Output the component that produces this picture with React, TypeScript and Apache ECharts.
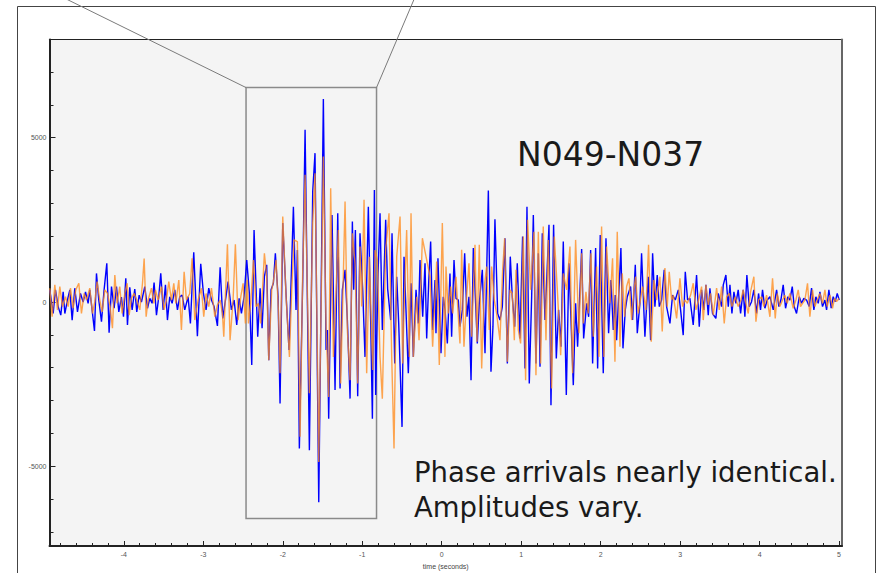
import React, { useEffect, useRef } from "react";
import * as echarts from "echarts";

// ---- Data ----
const xMajorTicks = [-4, -3, -2, -1, 0, 1, 2, 3, 4, 5];
const yMajorTicks = [-5000, 0, 5000];
const yMinorTicks = [-7000, -6000, -5000, -4000, -3000, -2000, -1000, 0, 1000, 2000, 3000, 4000, 5000, 6000, 7000];
const xMinorTicks = [
  -4.8, -4.6, -4.4, -4.2, -4.0, -3.8, -3.6, -3.4, -3.2, -3.0, -2.8, -2.6, -2.4, -2.2, -2.0,
  -1.8, -1.6, -1.4, -1.2, -1.0, -0.8, -0.6, -0.4, -0.2, 0, 0.2, 0.4, 0.6, 0.8, 1.0, 1.2, 1.4,
  1.6, 1.8, 2.0, 2.2, 2.4, 2.6, 2.8, 3.0, 3.2, 3.4, 3.6, 3.8, 4.0, 4.2, 4.4, 4.6, 4.8, 5.0,
];

// station N049 (blue)
const blueTime = [
  -4.931, -4.889, -4.86, -4.826, -4.793, -4.763, -4.742, -4.709, -4.679, -4.65,
  -4.617, -4.583, -4.545, -4.512, -4.482, -4.449, -4.428, -4.399, -4.369, -4.344,
  -4.315, -4.281, -4.248, -4.214, -4.185, -4.155, -4.122, -4.092, -4.063, -4.03,
  -4.004, -3.975, -3.954, -3.925, -3.895, -3.862, -3.837, -3.807, -3.778, -3.736,
  -3.702, -3.673, -3.644, -3.619, -3.589, -3.56, -3.535, -3.505, -3.476, -3.451,
  -3.422, -3.392, -3.359, -3.325, -3.296, -3.266, -3.233, -3.191, -3.162, -3.12,
  -3.074, -3.032, -2.998, -2.965, -2.931, -2.897, -2.864, -2.822, -2.788, -2.755,
  -2.721, -2.688, -2.646, -2.612, -2.579, -2.549, -2.52, -2.487, -2.453,
  -2.42, -2.39, -2.361, -2.315, -2.285, -2.26, -2.231, -2.202, -2.176, -2.147,
  -2.118, -2.093, -2.059, -2.034, -2.0, -1.958, -1.921, -1.866, -1.833, -1.816,
  -1.791, -1.749, -1.719, -1.665, -1.623, -1.594, -1.547, -1.489, -1.455, -1.438,
  -1.422, -1.38, -1.342, -1.308, -1.279, -1.25, -1.216, -1.187, -1.153, -1.124,
  -1.107, -1.086, -1.057, -1.028, -0.994, -0.965, -0.923, -0.893, -0.872, -0.847,
  -0.831, -0.801, -0.776, -0.747, -0.705, -0.68, -0.642, -0.625, -0.591, -0.566,
  -0.541, -0.499, -0.474, -0.42, -0.386, -0.357, -0.323, -0.294, -0.273, -0.239,
  -0.21, -0.189, -0.164, -0.139,
  -0.114, -0.084, -0.072, -0.047, -0.009, 0.02, 0.042, 0.071, 0.104, 0.125,
  0.155, 0.18, 0.209, 0.23, 0.26, 0.289, 0.318, 0.343, 0.369, 0.398,
  0.427, 0.448, 0.473, 0.511, 0.545, 0.587, 0.62, 0.645, 0.67, 0.704,
  0.733, 0.763, 0.796, 0.826, 0.863, 0.888, 0.918, 0.951, 0.985, 1.018,
  1.048, 1.073, 1.102, 1.132, 1.153, 1.186, 1.216, 1.237, 1.266, 1.3,
  1.35, 1.375, 1.408, 1.442, 1.471, 1.501, 1.53, 1.568, 1.601, 1.627,
  1.656, 1.685, 1.71, 1.761, 1.786, 1.824, 1.849, 1.874, 1.899, 1.937,
  1.962, 1.995, 2.033, 2.067, 2.1, 2.13, 2.159, 2.184, 2.201, 2.255,
  2.281, 2.31, 2.335, 2.377, 2.402, 2.436, 2.461, 2.494,
  2.515, 2.557, 2.599, 2.629, 2.654, 2.683, 2.712, 2.738, 2.767, 2.8,
  2.83, 2.872, 2.905, 2.939, 2.977, 3.006, 3.039, 3.065, 3.094, 3.123,
  3.165, 3.207, 3.241, 3.27, 3.299, 3.325, 3.354, 3.375, 3.408, 3.45,
  3.48, 3.522, 3.543, 3.576, 3.606, 3.627, 3.652, 3.677, 3.702, 3.731,
  3.761, 3.794, 3.815, 3.84, 3.87, 3.899, 3.928, 3.962, 3.987, 4.012,
  4.037, 4.067, 4.096, 4.13, 4.172, 4.214, 4.243, 4.268, 4.297, 4.327,
  4.356, 4.381, 4.411, 4.436, 4.465, 4.499, 4.528, 4.557, 4.591, 4.624,
  4.654, 4.683, 4.708, 4.738, 4.759, 4.792, 4.822, 4.843, 4.872, 4.901,
  4.926, 4.952, 4.977, 5.002,
];
const blueAmp = [
  370, -350, 370, -140, -400, 310, -350, 60, 370, -550,
  420, -300, 260, 0, 310, -40, 370, -240, -880, 870,
  60, -600, 370, 1180, -935, 470, -190, 470, -300, 150,
  -450, 720, -700, 450, -240, 390, -300, 210, 0, 470,
  -190, 110, -40, 590, -400, 160, 870, -240, 520, -550,
  160, -40, 370, -240, 160, 210, -240, 160, -650, 1510,
  -1040, 1160, 260, -240, 420, 60, -140, -730, 1060, -500,
  60, 620, -240, 60, -700, 110, -350, 160, 1280,
  260, -1920, 2190, -1060, 420, -800, 770, 1130, -1770, 370,
  570, 1480, 160, -3090, 2400, 210, -1460, 2900, -240, 1580,
  -4460, 620, 5240, -4510, 3360, 4530, -6090, 6180, -1460, -850,
  -3550, 2650, -2680, 2700, -2630, 370, 980, -550, -2940, 2450,
  370, 2190, -2870, 2090, 370, -1670, 2900, -650, -3550, 3410,
  -2830, 870, 2700, -850, 2500, 400, -550, 2090, -1870, 770,
  -650, -3800, 1380, -2170, 570, -1670, 370, -650, 1280, -450,
  1180, -1110, 570, 1840,
  -850, 670, -950, 1330, -1560, 160, -240, -1260, 870, -1060,
  1280, 110, 60, -750, -240, 1480, -450, 160, -2380, 1640,
  -40, -1260, -40, 980, -1560, 3390, -2120, -750, 2520, -350,
  -550, -140, 1940, -1870, 1380, 160, -750, 1180, -1110, 1990,
  -2020, 2900, -2480, 160, 2650, -1870, 1480, -1970, 2090, -550,
  2350, -3140, 2350, -1720, -240, -1360, 1840, -2830, 1180, -550,
  -2530, -40, -1360, 1610, -1110, -40, -450, 1580, -1870, 1640,
  -2020, 2040, -2170, 1940, -950, 670, -850, 210, -1160, 1640,
  -1410, -240, 160, 470, -550, 1130, -950, -40,
  1480, -1060, 770, -1160, 1480, -140, 820, -140, 60, 980,
  -140, -650, 210, 60, 370, -240, -1010, 920, 60, 110,
  -700, 820, -750, 370, -240, 520, -400, 420, -350, -500,
  260, -140, 520, 820, -140, 520, -350, 310, -40, 370,
  -350, 370, -450, 820, -140, 10, 370, -350, 260, -240,
  370, -190, 60, 160, -240, 370, -140, 60, 520, -190,
  160, 60, 470, -140, -350, 160, -40, 110, 60, -140,
  420, -240, 160, -40, 310, -140, 60, -240, 370, -190,
  160, 10, 260, 60,
];

// station N037 (orange)
const orangeTime = [
  -4.931, -4.902, -4.868, -4.835, -4.805, -4.772, -4.734, -4.7, -4.671, -4.638,
  -4.604, -4.566, -4.533, -4.499, -4.47, -4.428, -4.394, -4.365, -4.336, -4.302,
  -4.273, -4.239, -4.206, -4.172, -4.143, -4.113, -4.084, -4.051, -4.021, -3.988,
  -3.958, -3.933, -3.904, -3.87, -3.837, -3.799, -3.765, -3.744, -3.719, -3.694,
  -3.652, -3.623, -3.602, -3.568, -3.526, -3.493, -3.463, -3.434, -3.401, -3.371,
  -3.346, -3.308, -3.275, -3.241, -3.212, -3.17, -3.141, -3.107, -3.065, -3.023,
  -2.994, -2.965, -2.931, -2.897, -2.855, -2.822, -2.788, -2.759, -2.742, -2.696,
  -2.663, -2.625, -2.596, -2.562, -2.528, -2.499, -2.47, -2.445,
  -2.432, -2.403, -2.369, -2.336, -2.306, -2.277, -2.231, -2.202, -2.176, -2.139,
  -2.118, -2.084, -2.055, -2.034, -2.0, -1.958, -1.916, -1.887, -1.858, -1.816,
  -1.782, -1.749, -1.719, -1.665, -1.623, -1.594, -1.547, -1.489, -1.455, -1.422,
  -1.397, -1.363, -1.329, -1.3, -1.271, -1.246, -1.216, -1.187, -1.153, -1.124,
  -1.09, -1.057, -1.028, -1.007, -0.977, -0.944, -0.91, -0.868, -0.839, -0.81,
  -0.776, -0.747, -0.705, -0.663, -0.629, -0.6, -0.566, -0.524, -0.491, -0.474,
  -0.441, -0.407, -0.386, -0.357, -0.315, -0.285, -0.243,
  -0.147, -0.114, -0.084, -0.063, -0.03, 0.008, 0.041, 0.054, 0.083, 0.113,
  0.138, 0.18, 0.209, 0.23, 0.251, 0.28, 0.314, 0.343, 0.377, 0.419,
  0.444, 0.473, 0.503, 0.536, 0.566, 0.599, 0.628, 0.662, 0.691, 0.733,
  0.767, 0.792, 0.826, 0.859, 0.888, 0.914, 0.935, 0.964, 0.993, 1.027,
  1.056, 1.081, 1.119, 1.161, 1.186, 1.216, 1.245, 1.278, 1.312, 1.341,
  1.383, 1.417, 1.455, 1.497, 1.53, 1.572, 1.614, 1.647, 1.685, 1.727,
  1.761, 1.781, 1.815, 1.844, 1.878, 1.907, 1.949, 1.979, 2.012, 2.041,
  2.075, 2.117, 2.15, 2.18, 2.209, 2.243, 2.272, 2.302, 2.327, 2.356,
  2.39, 2.419, 2.44, 2.473,
  2.528, 2.57, 2.603, 2.637, 2.67, 2.704, 2.746, 2.775, 2.809, 2.838,
  2.863, 2.893, 2.914, 2.956, 2.998, 3.031, 3.06, 3.09, 3.132, 3.165,
  3.199, 3.232, 3.27, 3.291, 3.325, 3.354, 3.383, 3.417, 3.459, 3.492,
  3.522, 3.555, 3.585, 3.618, 3.652, 3.694, 3.731, 3.765, 3.794, 3.828,
  3.857, 3.886, 3.928, 3.954, 3.987, 4.025, 4.054, 4.088, 4.13, 4.163,
  4.197, 4.222, 4.255, 4.289, 4.318, 4.348, 4.381, 4.423, 4.457, 4.486,
  4.515, 4.541, 4.57, 4.603, 4.633, 4.666, 4.696, 4.725, 4.759, 4.792,
  4.822, 4.851, 4.885, 4.918, 4.943, 4.968, 4.998,
];
const orangeAmp = [
  420, -450, 520, -240, 470, -140, 160, -140, 420, -190,
  370, 570, -350, 260, 60, 420, -350, 10, 620, 60,
  -300, 370, 260, -140, -800, 820, -40, 470, -350, 260,
  570, -400, 110, 260, 60, -240, 570, 1320, -450, 60,
  420, -40, 370, 60, 470, -240, 60, 620, 60, 570,
  -40, 670, -850, 920, 60, 260, 1330, -550, 60, 420,
  -450, 260, -140, 420, -450, -90, 60, -350, -1060, 1760,
  -1160, 60, 1760, -550, 160, 570, -650, 670,
  -650, -40, 1280, -140, -40, -650, 1480, 770, -1770, 370,
  620, 1280, -240, -2170, 2600, 160, -1670, 370, 1890, 1840,
  -4100, 920, 3870, -2780, 2400, 3920, -4870, 4430, -750, -2890,
  3460, -1670, 370, 2190, -2480, -40, 3060, -850, -2380, 2090,
  1180, -2480, 1690, -140, 3110, -2170, 1380, -2070, 1580, 1280,
  -1670, -2940, 1580, 2700, -1670, -4460, 1380, 2600, -1870, -240,
  2190, -1670, 2700, -1670, 160, -1160, 1940,
  770, -1360, 160, 1230, -1920, 2400, -1670, 1080, -350, 470,
  -350, 770, -450, -1260, 1590, -1360, 160, 1180, -1060, 1740,
  -1210, 1740, -2020, 470, 1080, -850, 1080, 60, -350, -1160,
  980, 1940, -1820, 370, 260, -1160, 980, -850, -1260, 1990,
  -2380, 2500, 370, 2140, -2230, 2140, -1870, 2300, -1160, 1890,
  -2630, 1990, 370, -1620, 870, 370, 1690, -2170, 1890, -950,
  1480, -650, 310, -350, 1480, -1060, 1080, -1670, 2300, -1670,
  1690, -40, 1330, -1820, 2140, -1360, 870, -450, 470, 720,
  -550, 370, 770, -350,
  470, -240, 1740, -1210, 670, 60, 770, -900, 1030, -140,
  920, 60, 210, -500, 720, -140, 60, -40, 210, 570,
  -240, 60, 470, -550, 520, -90, 260, -400, 420, -240,
  470, -650, 160, 260, -140, 160, -140, 60, 370, -40,
  -350, 310, 770, -600, 60, 160, -140, 210, -450, 720,
  -500, 260, -140, 60, 210, -40, 260, -190, 60, 370,
  -140, -40, 60, 570, -450, 370, -140, 60, 260, -40,
  370, -140, 210, -190, 110, 10, 110,
];

// highlighted window (seconds, amplitude)
const boxTime = [-2.462, -0.82];
const boxAmp = [-6586, 6525];

const title = "N049-N037";
const noteLines = ["Phase arrivals nearly identical.", "Amplitudes vary."];

export default function App() {
  const ref = useRef<HTMLDivElement>(null);
  useEffect(() => {
    if (!ref.current) return;
    const chart = echarts.init(ref.current, null, { renderer: "svg" });
    const xMin = -4.935;
    const xMax = 5.037;
    const yMin = -7425;
    const yMax = 7988;
    const labelFont = { fontFamily: "Liberation Sans", fontSize: 7, color: "#555" };
    chart.setOption({
      animation: false,
      backgroundColor: "#ffffff",
      grid: {
        left: 49.5,
        top: 39.5,
        width: 792.5,
        height: 506.5,
        show: true,
        backgroundColor: "#f4f4f4",
        borderColor: "#222",
        borderWidth: 1,
        containLabel: false,
        outerBoundsMode: "none",
      },
      xAxis: [
        {
          type: "value",
          min: xMin,
          max: xMax,
          position: "bottom",
          axisLine: { show: true, onZero: false, lineStyle: { color: "#222", width: 2 } },
          axisTick: { show: true, inside: true, length: 5, customValues: xMajorTicks, lineStyle: { color: "#222", width: 1 } },
          axisLabel: { show: true, customValues: xMajorTicks, margin: 5, ...labelFont, formatter: (v: number) => String(v) },
          splitLine: { show: false },
          name: "time (seconds)",
          nameLocation: "middle",
          nameGap: 13,
          nameTextStyle: { fontFamily: "Liberation Sans", fontSize: 7, color: "#444" },
        },
        {
          type: "value",
          min: xMin,
          max: xMax,
          position: "bottom",
          axisLine: { show: false, onZero: false },
          axisTick: { show: true, inside: true, length: 3, customValues: xMinorTicks, lineStyle: { color: "#222", width: 1 } },
          axisLabel: { show: false },
          splitLine: { show: false },
        },
      ],
      yAxis: [
        {
          type: "value",
          min: yMin,
          max: yMax,
          position: "left",
          axisLine: { show: true, onZero: false, lineStyle: { color: "#222", width: 2 } },
          axisTick: { show: true, inside: true, length: 6, customValues: yMajorTicks, lineStyle: { color: "#222", width: 1 } },
          axisLabel: { show: true, customValues: yMajorTicks, margin: 3, ...labelFont, formatter: (v: number) => String(v) },
          splitLine: { show: false },
        },
        {
          type: "value",
          min: yMin,
          max: yMax,
          position: "left",
          axisLine: { show: false, onZero: false },
          axisTick: { show: true, inside: true, length: 4, customValues: yMinorTicks, lineStyle: { color: "#222", width: 1 } },
          axisLabel: { show: false },
          splitLine: { show: false },
        },
        {
          type: "value",
          min: yMin,
          max: yMax,
          position: "right",
          axisLine: { show: true, onZero: false, lineStyle: { color: "#666", width: 2 } },
          axisTick: { show: false },
          axisLabel: { show: false },
          splitLine: { show: false },
        },
      ],
      series: [
        {
          name: "N049",
          type: "line",
          xAxisIndex: 0,
          yAxisIndex: 0,
          showSymbol: false,
          symbol: "none",
          lineStyle: { color: "#0000ff", width: 1.4 },
          data: blueTime.map((t, i) => [t, blueAmp[i]]),
          z: 2,
        },
        {
          name: "N037",
          type: "line",
          xAxisIndex: 0,
          yAxisIndex: 0,
          showSymbol: false,
          symbol: "none",
          lineStyle: { color: "#ff8c1e", width: 1.4, opacity: 0.78 },
          data: orangeTime.map((t, i) => [t, orangeAmp[i]]),
          z: 3,
          markArea: {
            silent: true,
            itemStyle: { color: "rgba(0,0,0,0)", borderColor: "#8a8a8a", borderWidth: 1.5 },
            data: [[{ coord: [boxTime[0], boxAmp[1]] }, { coord: [boxTime[1], boxAmp[0]] }]],
          },
        },
      ],
    });

    const tl = chart.convertToPixel({ seriesIndex: 0 }, [boxTime[0], boxAmp[1]]) as number[];
    const tr = chart.convertToPixel({ seriesIndex: 0 }, [boxTime[1], boxAmp[1]]) as number[];
    chart.setOption({
      graphic: [
        {
          type: "rect",
          z: 0,
          silent: true,
          shape: { x: 17.5, y: 6.5, width: 858, height: 620 },
          style: { fill: "rgba(0,0,0,0)", stroke: "#444", lineWidth: 1 },
        },
        {
          type: "line",
          z: 20,
          silent: true,
          shape: { x1: tl[0], y1: tl[1], x2: tl[0] - (tl[1] + 2) * 2.03, y2: -2 },
          style: { stroke: "#7a7a7a", lineWidth: 1 },
        },
        {
          type: "line",
          z: 20,
          silent: true,
          shape: { x1: tr[0], y1: tr[1], x2: tr[0] + (tr[1] + 2) * 0.425, y2: -2 },
          style: { stroke: "#7a7a7a", lineWidth: 1 },
        },
        {
          type: "text",
          z: 20,
          x: 517,
          y: 154,
          style: { text: title, fontFamily: "DejaVu Sans", fontSize: 33, fill: "#1a1a1a", verticalAlign: "middle", align: "left" },
        },
        {
          type: "text",
          z: 20,
          x: 414,
          y: 472,
          style: { text: noteLines[0], fontFamily: "DejaVu Sans", fontSize: 27.5, fill: "#1a1a1a", verticalAlign: "middle", align: "left" },
        },
        {
          type: "text",
          z: 20,
          x: 414,
          y: 507,
          style: { text: noteLines[1], fontFamily: "DejaVu Sans", fontSize: 27.5, fill: "#1a1a1a", verticalAlign: "middle", align: "left" },
        },
      ],
    });
    return () => chart.dispose();
  }, []);
  return <div ref={ref} style={{ position: "absolute", left: 0, top: 0, width: 881, height: 573 }} />;
}
